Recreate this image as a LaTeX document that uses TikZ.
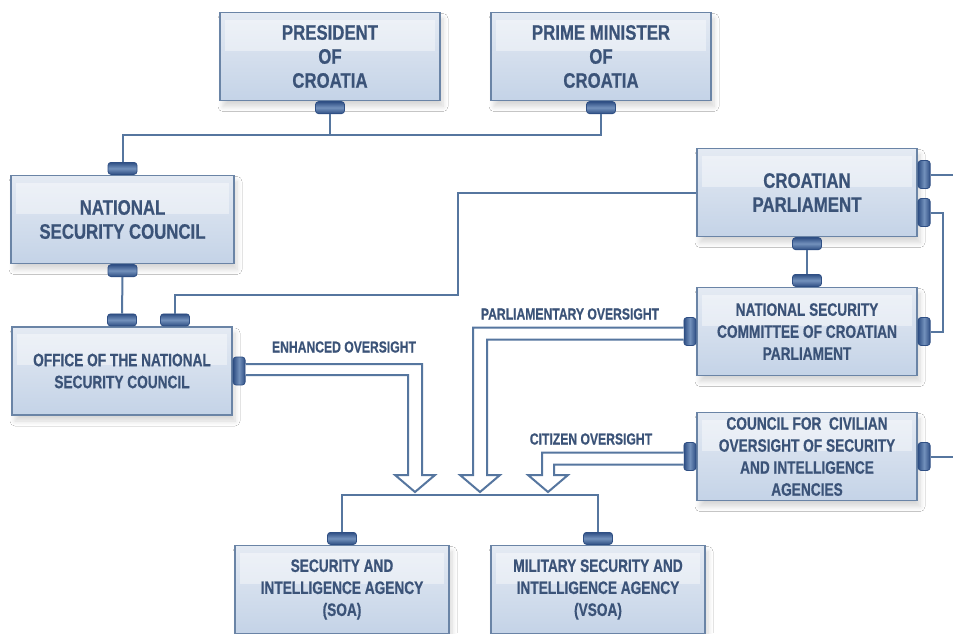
\documentclass[tikz,border=0pt]{standalone}
\usepackage{fontspec}
\newfontfamily\unitfont[FakeStretch=0.8, FakeBold=0.6]{Liberation Sans Bold}
\newfontfamily\smallunitfont[FakeStretch=0.76, FakeBold=0.6]{Liberation Sans Bold}
\usetikzlibrary{positioning}
\usetikzlibrary{shadows.blur}
\definecolor{boxline}{HTML}{6A84A6}
\definecolor{boxtop}{HTML}{E4EAF3}
\definecolor{boxbot}{HTML}{C4D3E7}
\definecolor{boxtext}{HTML}{3B5378}
\definecolor{wirecol}{HTML}{56769F}
\definecolor{stubdark}{HTML}{2F4F84}
\definecolor{stublight}{HTML}{7391BC}
\tikzset{unit/.style = {draw = boxline, line width = 0.7pt, top color = boxtop, bottom color = boxbot,
                        minimum width = 110pt, minimum height = 44pt, inner xsep = 2pt, inner ysep = 1pt,
                        align = center, text = boxtext, font = \unitfont\fontsize{10.5}{12}\selectfont,
                        blur shadow = {shadow xshift = 1.5pt, shadow yshift = -3pt, shadow opacity = 16, shadow blur radius = 2.5pt, shadow blur steps = 8},
                        path picture = {\fill [white, opacity = 0.4]
                          ([xshift = 2.5pt, yshift = -3.5pt] path picture bounding box.north west) rectangle
                          ([xshift = -2.5pt, yshift = -19pt] path picture bounding box.north east);}}}
\tikzset{smallunit/.style = {unit, font = \smallunitfont\fontsize{9}{11}\selectfont}}
\tikzset{stubv/.style = {draw = stubdark, line width = 0.4pt, rounded corners = 1.5pt, inner sep = 0,
                         top color = stubdark, bottom color = stubdark, middle color = stublight,
                         minimum width = 14.5pt, minimum height = 6pt}}
\tikzset{stubh/.style = {draw = stubdark, line width = 0.4pt, rounded corners = 1.5pt, inner sep = 0,
                         left color = stubdark, right color = stubdark, middle color = stublight,
                         minimum width = 6pt, minimum height = 14pt}}
\tikzset{wire/.style = {draw = wirecol, line width = 1pt}}
\tikzset{hollow/.style = {draw = wirecol, line width = 1pt, fill = white, line join = miter}}
\tikzset{tag/.style = {text = boxtext, font = \smallunitfont\fontsize{8}{9}\selectfont, inner sep = 0}}

\begin{document}
\begin{tikzpicture}[x = 0.5pt, y = -0.5pt]
  \useasboundingbox [fill = white] (0, 0) rectangle (953, 633);

  \node [unit] (pres) at (330, 56.5) {PRESIDENT\\OF\\CROATIA};
  \node [unit] (pm) at (601, 56.5) {PRIME MINISTER\\OF\\CROATIA};
  \node [unit, minimum width = 111.5pt] (nsc) at (122.5, 219.5) {NATIONAL\\SECURITY COUNCIL};
  \node [smallunit] (office) at (122, 371) {OFFICE OF THE NATIONAL\\SECURITY COUNCIL};
  \node [unit] (cp) at (807, 192.5) {CROATIAN\\PARLIAMENT};
  \node [smallunit] (nscc) at (807, 331.5) {NATIONAL SECURITY\\COMMITTEE OF CROATIAN\\PARLIAMENT};
  \node [smallunit] (council) at (807, 456.5) {COUNCIL FOR\ \ CIVILIAN\\OVERSIGHT OF SECURITY\\AND INTELLIGENCE\\AGENCIES};
  \node [smallunit, minimum width = 107pt] (soa) at (342, 589.5) {SECURITY AND\\INTELLIGENCE AGENCY\\(SOA)};
  \node [smallunit, minimum width = 107pt] (vsoa) at (598, 589.5) {MILITARY SECURITY AND\\INTELLIGENCE AGENCY\\(VSOA)};

  \node [stubv, anchor = north] (pres-b) at (pres.south) {};
  \node [stubv, anchor = north] (pm-b) at (pm.south) {};
  \node [stubv, anchor = south] (nsc-t) at (nsc.north) {};
  \node [stubv, anchor = north] (nsc-b) at (nsc.south) {};
  \node [stubv, anchor = south] (office-t1) at (office.north) {};
  \node [stubv, anchor = south] (office-t2) at ([xshift = 26.5pt] office.north) {};
  \node [stubh, anchor = west] (office-r) at (office.east) {};
  \node [stubv, anchor = north] (cp-b) at (cp.south) {};
  \node [stubh, anchor = west] (cp-r1) at ([yshift = 9pt] cp.east) {};
  \node [stubh, anchor = west] (cp-r2) at ([yshift = -10pt] cp.east) {};
  \node [stubv, anchor = south] (nscc-t) at (nscc.north) {};
  \node [stubh, anchor = east] (nscc-l) at (nscc.west) {};
  \node [stubh, anchor = west] (nscc-r) at (nscc.east) {};
  \node [stubh, anchor = east] (council-l) at (council.west) {};
  \node [stubh, anchor = west] (council-r) at (council.east) {};
  \node [stubv, anchor = south] (soa-t) at (soa.north) {};
  \node [stubv, anchor = south] (vsoa-t) at (vsoa.north) {};

  \coordinate (topbus) at (0, 135);
  \coordinate (lowbus) at (0, 495);
  \coordinate (bend) at (458, 295);
  \coordinate (loopx) at (943, 0);
  \coordinate (edge1) at (953, 174.5);
  \coordinate (edge2) at (953, 456.5);
  \coordinate (tipE) at (415, 492);
  \coordinate (tipP) at (480, 492);
  \coordinate (tipC) at (548, 492);

  \draw [wire] (pres-b.south) -- (pres-b.south |- topbus);
  \draw [wire] (pm-b.south) |- (nsc-t.north |- topbus) -- (nsc-t.north);
  \draw [wire] (nsc-b.south) -- (office-t1.north);
  \draw [wire] (office-t2.north) |- (bend) |- (cp.west);
  \draw [wire] (cp-b.south) -- (nscc-t.north);
  \draw [wire] (cp-r1.east) -- (edge1);
  \draw [wire] (cp-r2.east) -| (loopx |- nscc-r.east) -- (nscc-r.east);
  \draw [wire] (council-r.east) -- (edge2);
  \draw [wire] (soa-t.north) |- (vsoa-t.north |- lowbus) -- (vsoa-t.north);

  % hollow oversight arrows
  \draw [hollow] ([yshift = 3.5pt] office-r.east) -| (422, 475) -- (435, 475) -- (tipE)
                 -- (395, 475) -- (408, 475) |- ([yshift = -2pt] office-r.east);
  \draw [hollow] ([yshift = 2pt] nscc-l.west) -| (473, 475) -- (460, 475) -- (tipP)
                 -- (500, 475) -- (487, 475) |- ([yshift = -4pt] nscc-l.west);
  \draw [hollow] ([yshift = 2pt] council-l.west) -| (542, 475) -- (528, 475) -- (tipC)
                 -- (568, 475) -- (554, 475) |- ([yshift = -4pt] council-l.west);

  \node [tag] (enh) at (344, 347) {ENHANCED OVERSIGHT};
  \node [tag] (parl) at (570, 314) {PARLIAMENTARY OVERSIGHT};
  \node [tag] (citz) at (591, 439) {CITIZEN OVERSIGHT};
\end{tikzpicture}
\end{document}
